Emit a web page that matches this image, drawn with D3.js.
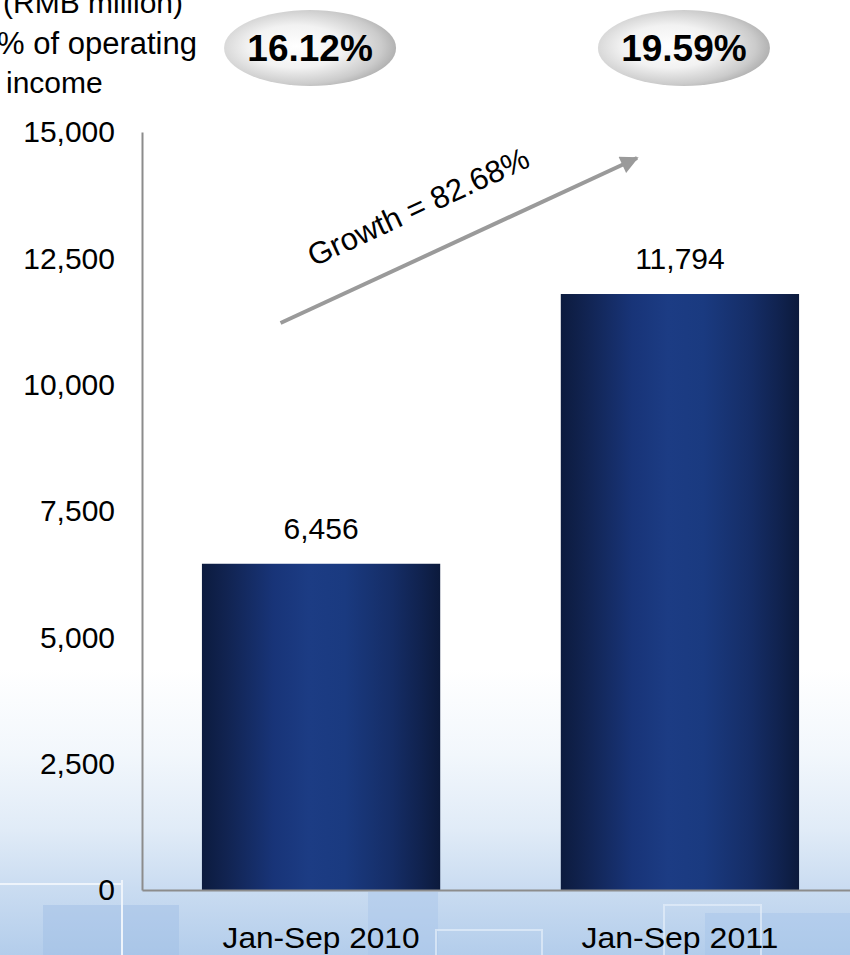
<!DOCTYPE html>
<html>
<head>
<meta charset="utf-8">
<script src="https://cdn.jsdelivr.net/npm/d3@7/dist/d3.min.js"></script>
<style>
  html, body { margin: 0; padding: 0; background: #fff; }
  svg { display: block; }
  text { font-family: "Liberation Sans", Arial, sans-serif; fill: #000; }
</style>
</head>
<body>
<svg id="chart" width="850" height="955"></svg>
<script>
// ---- data ----
const categories = ["Jan-Sep 2010", "Jan-Sep 2011"];
const values = [6456, 11794];
const valueLabels = ["6,456", "11,794"];
const shareLabels = ["16.12%", "19.59%"];
const yTicks = [0, 2500, 5000, 7500, 10000, 12500, 15000];
const yTickLabels = ["0", "2,500", "5,000", "7,500", "10,000", "12,500", "15,000"];
const growthLabel = "Growth = 82.68%";
const unitLines = ["(RMB million)", "% of operating", "income"];

const W = 850, H = 955;
const svg = d3.select("#chart");
const defs = svg.append("defs");

// background gradient
const bg = defs.append("linearGradient").attr("id", "bg").attr("x1", 0).attr("y1", 0).attr("x2", 0).attr("y2", 1);
[[0, "#ffffff"], [0.7, "#ffffff"], [0.79, "#f2f7fc"], [0.87, "#e0ebf7"], [0.93, "#cadcf1"], [1, "#b3cdeb"]]
  .forEach(([o, c]) => bg.append("stop").attr("offset", o).attr("stop-color", c));
svg.append("rect").attr("width", W).attr("height", H).attr("fill", "url(#bg)");

// faint background "building" boxes
const bgBoxes = svg.append("g");
bgBoxes.append("rect").attr("x", 43).attr("y", 905).attr("width", 136).attr("height", 60).attr("fill", "#9dbde5").attr("opacity", 0.45);
bgBoxes.append("rect").attr("x", 368).attr("y", 892).attr("width", 70).attr("height", 70).attr("fill", "#a9c6e9").attr("opacity", 0.5);
bgBoxes.append("rect").attr("x", 705).attr("y", 913).attr("width", 150).attr("height", 50).attr("fill", "#a5c3e8").attr("opacity", 0.45);
bgBoxes.append("rect").attr("x", 436).attr("y", 930).attr("width", 106).attr("height", 40).attr("fill", "none").attr("stroke", "#e4eefa").attr("stroke-width", 2).attr("opacity", 0.7);
bgBoxes.append("rect").attr("x", 664).attr("y", 905).attr("width", 97).attr("height", 60).attr("fill", "none").attr("stroke", "#e4eefa").attr("stroke-width", 2).attr("opacity", 0.7);
bgBoxes.append("line").attr("x1", 122).attr("x2", 122).attr("y1", 880).attr("y2", 955).attr("stroke", "#eef4fb").attr("stroke-width", 2);
bgBoxes.append("line").attr("x1", 0).attr("x2", 122).attr("y1", 884).attr("y2", 884).attr("stroke", "#eef4fb").attr("stroke-width", 2);

// bar gradient
const bg2 = defs.append("linearGradient").attr("id", "barGrad").attr("x1", 0).attr("y1", 0).attr("x2", 1).attr("y2", 0);
[[0, "#0c1b3e"], [0.1, "#112350"], [0.3, "#183478"], [0.45, "#1c3c84"], [0.6, "#1a3a80"], [0.8, "#152d66"], [0.92, "#10224e"], [1, "#0c1a3c"]]
  .forEach(([o, c]) => bg2.append("stop").attr("offset", o).attr("stop-color", c));

// ellipse gradient
const eg = defs.append("radialGradient").attr("id", "ellGrad").attr("cx", "42%").attr("cy", "48%").attr("r", "62%");
[[0, "#ffffff"], [0.45, "#f2f2f2"], [0.8, "#cbcbcb"], [1, "#a6a6a6"]]
  .forEach(([o, c]) => eg.append("stop").attr("offset", o).attr("stop-color", c));

// arrowhead
defs.append("marker").attr("id", "arrow").attr("viewBox", "0 0 10 10").attr("refX", 9).attr("refY", 5)
  .attr("markerWidth", 5).attr("markerHeight", 4.5).attr("orient", "auto").attr("markerUnits", "strokeWidth")
  .append("path").attr("d", "M0,0 L10,5 L0,10 Z").attr("fill", "#9a9a9a");

// ---- scales ----
const x = d3.scaleBand().domain(categories).range([142, 859]).paddingInner(0.336).paddingOuter(0.167);
const y = d3.scaleLinear().domain([0, 15000]).range([890, 132]);

// y axis
const yAxis = svg.append("g").attr("transform", "translate(142,0)")
  .call(d3.axisLeft(y).tickValues(yTicks).tickSize(0).tickPadding(27)
    .tickFormat((d, i) => yTickLabels[i]));
yAxis.select(".domain").attr("stroke", "#8c8c8c").attr("stroke-width", 2);
yAxis.selectAll("text").attr("font-size", 30).attr("font-family", "Liberation Sans, Arial, sans-serif").attr("fill", "#000").attr("dy", "0.33em");

// bars
svg.append("g").selectAll("rect").data(values).join("rect")
  .attr("x", (d, i) => x(categories[i]))
  .attr("y", d => y(d))
  .attr("width", x.bandwidth())
  .attr("height", d => y(0) - y(d))
  .attr("fill", "url(#barGrad)");

// x axis
const xAxis = svg.append("g").attr("transform", "translate(0,890)")
  .call(d3.axisBottom(x).tickSize(0).tickPadding(37));
xAxis.select(".domain").attr("stroke", "#8c8c8c").attr("stroke-width", 2);
xAxis.selectAll("text").attr("font-size", 29).attr("font-family", "Liberation Sans, Arial, sans-serif").attr("fill", "#000")
  .attr("textLength", 197).attr("lengthAdjust", "spacingAndGlyphs");

// value labels
svg.append("g").selectAll("text").data(values).join("text")
  .attr("x", (d, i) => x(categories[i]) + x.bandwidth() / 2)
  .attr("y", d => y(d) - 25)
  .attr("text-anchor", "middle").attr("font-size", 30)
  .text((d, i) => valueLabels[i]);

// share ellipses
const shareOffsets = [-11, 4];
const shareG = svg.append("g").selectAll("g").data(shareLabels).join("g")
  .attr("transform", (d, i) => `translate(${x(categories[i]) + x.bandwidth() / 2 + shareOffsets[i]},48)`);
shareG.append("ellipse").attr("rx", 86).attr("ry", 38).attr("fill", "url(#ellGrad)");
shareG.append("text").attr("text-anchor", "middle").attr("y", 13).attr("font-size", 37).attr("font-weight", "bold")
  .text(d => d);

// unit / share caption
svg.append("text").attr("x", 183).attr("y", 13).attr("text-anchor", "end").attr("font-size", 30).text(unitLines[0]);
svg.append("text").attr("x", 197).attr("y", 54).attr("text-anchor", "end").attr("font-size", 31).text(unitLines[1]);
svg.append("text").attr("x", 6).attr("y", 93).attr("text-anchor", "start").attr("font-size", 30).text(unitLines[2]);

// growth arrow
const ax1 = x(categories[0]) + x.bandwidth() * 0.33, ay1 = y(11220);
const ax2 = x(categories[1]) + x.bandwidth() * 0.32, ay2 = y(14485);
svg.append("line").attr("x1", ax1).attr("y1", ay1).attr("x2", ax2).attr("y2", ay2)
  .attr("stroke", "#9a9a9a").attr("stroke-width", 4).attr("marker-end", "url(#arrow)");
const ang = Math.atan2(ay2 - ay1, ax2 - ax1) * 180 / Math.PI;
svg.append("text").attr("transform", `translate(${(ax1 + ax2) / 2 - 36},${(ay1 + ay2) / 2 - 24}) rotate(${ang})`)
  .attr("text-anchor", "middle").attr("font-size", 31).text(growthLabel);
</script>
</body>
</html>
